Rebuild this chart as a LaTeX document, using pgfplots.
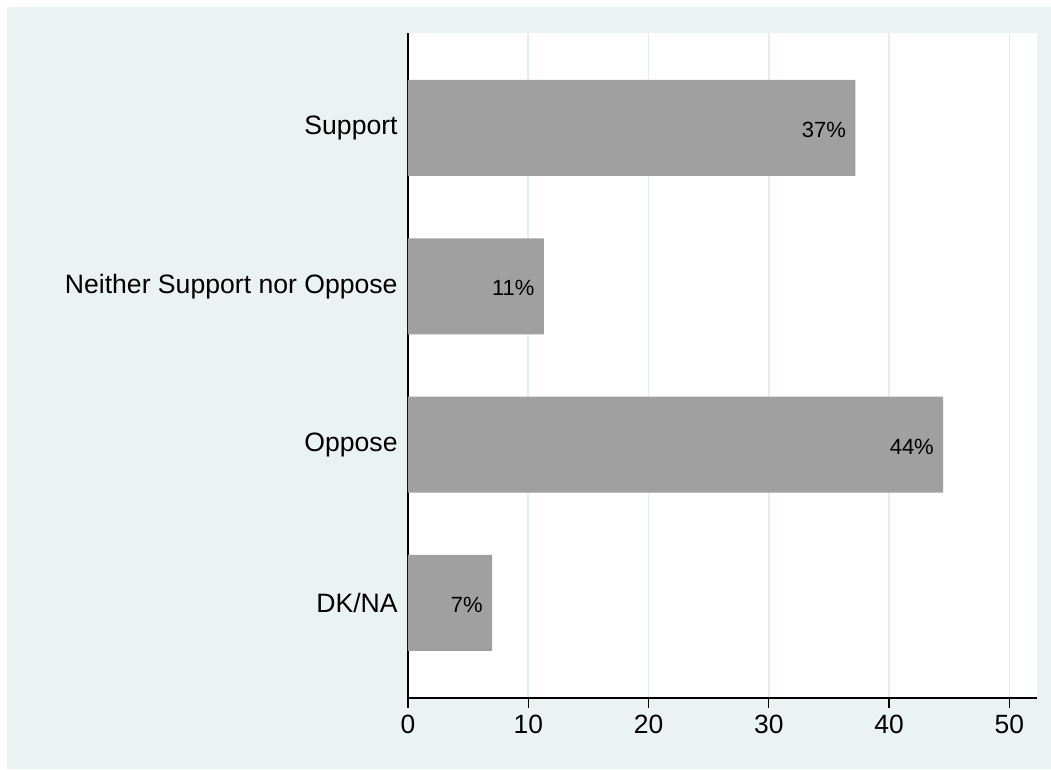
\documentclass[border=0pt]{standalone}
\usepackage{pgfplots}
\pgfplotsset{compat=1.18}
\usepackage{fontspec}
\setmainfont{Liberation Sans}
\definecolor{bgc}{HTML}{EAF2F3}
\definecolor{gridc}{HTML}{E4EEF0}
\definecolor{barc}{HTML}{A0A0A0}
\begin{document}
\begin{tikzpicture}
\useasboundingbox (0,0) rectangle (525.5pt,385pt);
\fill[bgc] (3.5pt,0.5pt) rectangle (525.5pt,381.5pt);
\begin{axis}[
  at={(204pt,36pt)}, anchor=south west,
  scale only axis, width=314.5pt, height=332.5pt,
  axis background/.style={fill=white},
  xbar, bar width=48pt,
  xmin=0, xmax=52.3, ymin=0.4, ymax=4.6,
  xtick={0,10,20,30,40,50},
  ytick={1,2,3,4},
  yticklabels={DK/NA, Oppose, Neither Support nor Oppose, Support},
  axis x line*=bottom, axis y line*=left,
  axis line style={black, line width=0.6pt},
  tick align=outside, major tick length=5pt,
  xtick style={black, line width=0.6pt},
  ytick style={draw=none},
  xmajorgrids, grid style={gridc, line width=0.8pt},
  /pgf/number format/assume math mode=true,
  xticklabel style={font=\fontsize{13.2pt}{15pt}\selectfont, inner sep=0pt, yshift=-3.5pt},
  yticklabel style={font=\fontsize{13.3pt}{15pt}\selectfont, inner sep=0pt, anchor=east},
  clip=false,
]
\addplot[fill=barc, draw=none,
  nodes near coords={\pgfplotspointmeta\%},
  point meta=explicit symbolic,
  every node near coord/.append style={anchor=east, inner sep=0pt, xshift=-4.5pt, yshift=-1pt, font=\fontsize{11pt}{13pt}\selectfont, text=black},
] table[x=v, y=c, meta=lab] {
v c lab
37.2 4 37
11.3 3 11
44.5 2 44
7.0 1 7
};
\end{axis}
\end{tikzpicture}
\end{document}
